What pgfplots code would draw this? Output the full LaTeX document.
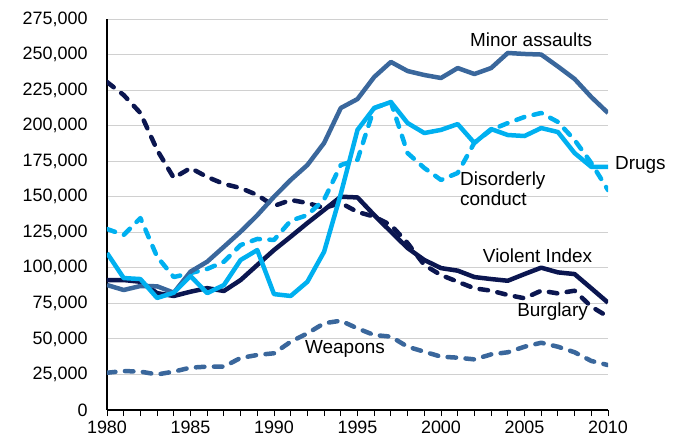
\documentclass[border=0pt]{standalone}
\usepackage{pgfplots}
\usepackage{pgfplotstable}
\pgfplotsset{compat=1.18}
\usepackage{fontspec}
\setmainfont{Liberation Sans}
\definecolor{navy}{HTML}{0B1650}
\definecolor{steel}{HTML}{3A679C}
\definecolor{cyanx}{HTML}{00B0F0}
\definecolor{gridc}{HTML}{D0D0D0}
\tikzset{
  dashstyle/.style={line cap=round, dash pattern=on 8.5bp off 9.5bp},
  lbl/.style={font=\fontsize{19}{21}\selectfont, inner sep=0pt},
}
\pgfplotstableread{
year minor drugs disorder violent burglary weapons
1980 87900 110400 127300 91400 230700 26200
1981 84400 92800 123100 91400 221500 27400
1982 87200 92100 135000 90200 208900 27000
1983 87000 78800 107800 82200 182900 25000
1984 82500 82500 93500 80200 163200 27000
1985 97300 94200 96300 83200 170200 29800
1986 104300 82200 99200 85700 163900 30500
1987 114800 87900 104300 83700 159000 30500
1988 125400 105500 116000 91400 156100 36600
1989 137000 112500 120300 102000 151200 38700
1990 150000 81500 119600 112500 143500 39900
1991 161800 80200 133100 121900 147700 48000
1992 172300 90200 137100 131500 145600 53900
1993 187800 111300 148000 140700 142100 61000
1994 212400 152000 172300 150000 145600 62800
1995 218700 197000 176000 149500 139300 57400
1996 234200 212400 212400 137100 136000 52700
1997 244800 216600 216600 125400 130100 51600
1998 238400 201800 180700 113900 117400 44500
1999 235600 194800 170200 105500 102000 41000
2000 233500 197000 161800 99800 94900 37500
2001 240500 201100 166700 98000 90200 36800
2002 236300 187800 188000 93500 85600 35600
2003 240500 197600 197000 92100 83900 39100
2004 251100 193400 201800 90900 80900 40600
2005 250400 192700 206100 95600 78600 44500
2006 250000 198300 208900 100100 83900 47300
2007 241600 195500 202600 96800 82000 44500
2008 232800 180700 189900 95600 83900 40600
2009 220100 171000 173700 85600 72700 34500
2010 208900 171000 154700 75500 65600 31600
}\data
\begin{document}
\begin{tikzpicture}
\begin{axis}[
  at={(0,0)}, anchor=south west,
  scale only axis, width=501bp, height=391bp,
  xmin=1980, xmax=2010, ymin=0, ymax=275000,
  axis x line*=bottom, axis y line*=left,
  axis line style={-, black, line width=1.1bp},
  xtick={1980,1985,...,2010},
  xticklabels={1980,1985,1990,1995,2000,2005,2010},
  minor xtick={1980,...,2010},
  ytick={0,25000,...,275000},
  yticklabels={0,{25,000},{50,000},{75,000},{100,000},{125,000},{150,000},{175,000},{200,000},{225,000},{250,000},{275,000}},
  tick align=outside,
  major tick length=6bp, minor tick length=6bp,
  x tick style={black, line width=0.9bp},
  y tick style={draw=none},
  ymajorgrids, grid style={gridc, line width=0.9bp},
  scaled y ticks=false,
  x tick label style={yshift=-1bp, font=\fontsize{18}{21}\selectfont},
  y tick label style={xshift=-10bp, font=\fontsize{18}{21}\selectfont},
  clip mode=individual,
  every axis plot/.append style={line width=4.5bp, line join=round},
]
\addplot[steel, dashstyle] table[x=year, y=weapons] {\data};
\addplot[navy, dashstyle] table[x=year, y=burglary] {\data};
\addplot[navy] table[x=year, y=violent] {\data};
\addplot[cyanx, dashstyle] table[x=year, y=disorder] {\data};
\addplot[steel] table[x=year, y=minor] {\data};
\addplot[cyanx] table[x=year, y=drugs] {\data};
\node[lbl, anchor=center] at (axis cs:2005.4,260200) {Minor assaults};
\node[lbl, anchor=west] at (axis cs:2010.42,172300) {Drugs};
\node[lbl, anchor=west, align=left] at (axis cs:2001.14,155400) {Disorderly\\[-1pt]conduct};
\node[lbl, anchor=center] at (axis cs:2005.78,108300) {Violent Index};
\node[lbl, anchor=center] at (axis cs:2006.68,68900) {Burglary};
\node[lbl, anchor=center] at (axis cs:1994.25,42900) {Weapons};
\end{axis}
\pgfresetboundingbox
\path[use as bounding box] (-107bp,-30bp) rectangle (582bp,410bp);
\end{tikzpicture}
\end{document}
